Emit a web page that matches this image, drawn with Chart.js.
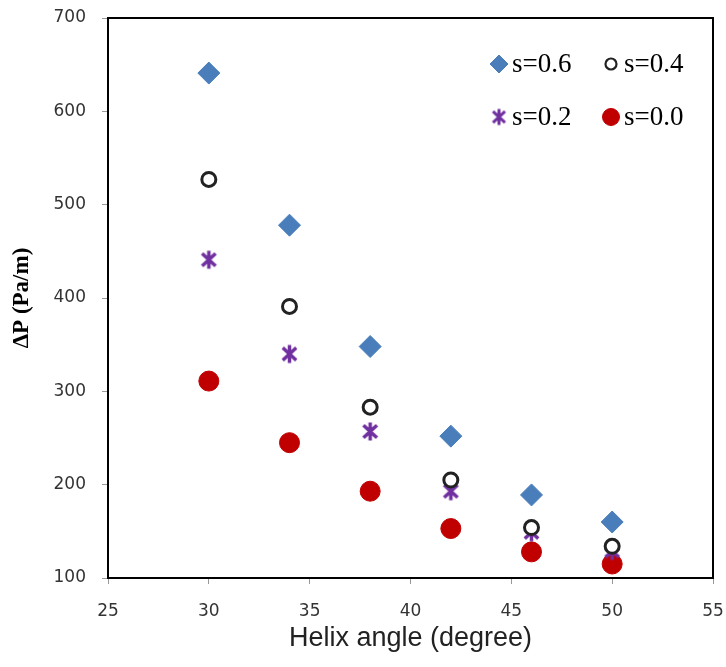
<!DOCTYPE html>
<html>
<head>
<meta charset="utf-8">
<script src="https://cdn.jsdelivr.net/npm/chart.js@4.4.0/dist/chart.umd.min.js"></script>
<style>
  body { margin: 0; background: #fff; }
  canvas { display: block; }
</style>
</head>
<body>
<canvas id="myChart" width="726" height="667"></canvas>
<script>
// ===== data =====
var helixAngle = [30, 34, 38, 42, 46, 50];
var dp_s06 = [641, 478, 348, 252, 189, 160];
var dp_s04 = [527, 391, 283, 205, 154, 134];
var dp_s02 = [441, 340, 257, 193, 149, 129];
var dp_s00 = [311, 245, 193, 153, 128, 115];

var xTicks = [25, 30, 35, 40, 45, 50, 55];
var yTicks = [100, 200, 300, 400, 500, 600, 700];

function pts(ys) {
  return helixAngle.map(function (x, i) { return { x: x, y: ys[i] }; });
}

// asterisk marker (vertical bar + X), like the Excel one
function makeStar(size, lw, color) {
  var c = document.createElement('canvas');
  c.width = size; c.height = size;
  var g = c.getContext('2d');
  var m = size / 2, r = size / 2 - 1.5;
  g.strokeStyle = color;
  g.lineWidth = lw;
  g.beginPath();
  g.moveTo(m, m - r); g.lineTo(m, m + r);
  g.moveTo(m - r * 0.75, m - r * 0.7); g.lineTo(m + r * 0.75, m + r * 0.7);
  g.moveTo(m + r * 0.75, m - r * 0.7); g.lineTo(m - r * 0.75, m + r * 0.7);
  g.stroke();
  return c;
}
var starImg = makeStar(21, 3.5, '#7030A0');
var starLegend = makeStar(19, 3, '#7030A0');

var datasets = [
  { label: 's=0.6', data: pts(dp_s06), pointStyle: 'rectRot', pointRadius: 11,
    backgroundColor: '#4A7EBB', borderColor: '#4A7EBB', borderWidth: 1 },
  { label: 's=0.4', data: pts(dp_s04), pointStyle: 'circle', pointRadius: 7,
    backgroundColor: '#fff', borderColor: '#222', borderWidth: 3 },
  { label: 's=0.2', data: pts(dp_s02), pointStyle: starImg, pointRadius: 10,
    backgroundColor: '#7030A0', borderColor: '#7030A0' },
  { label: 's=0.0', data: pts(dp_s00), pointStyle: 'circle', pointRadius: 10,
    backgroundColor: '#C00000', borderColor: '#C00000', borderWidth: 1 }
];

// frame + 2x2 legend inside the plot
var framePlugin = {
  id: 'frame',
  afterDraw: function (chart) {
    var a = chart.chartArea, ctx = chart.ctx;
    ctx.save();
    ctx.strokeStyle = '#000';
    ctx.lineWidth = 2;
    ctx.strokeRect(a.left, a.top, a.right - a.left, a.bottom - a.top);

    var items = [
      { ds: 0, x: 499, y: 64, r: 9 }, { ds: 1, x: 611, y: 64, r: 5.5 },
      { ds: 2, x: 499, y: 117, r: 9 }, { ds: 3, x: 611, y: 117, r: 8.5 }
    ];
    ctx.font = '27px "Liberation Serif", "Times New Roman", serif';
    ctx.textBaseline = 'middle';
    ctx.fillStyle = '#000';
    items.forEach(function (it) {
      var d = chart.data.datasets[it.ds];
      var style = it.ds === 2 ? starLegend : d.pointStyle;
      ctx.save();
      ctx.fillStyle = d.backgroundColor;
      ctx.strokeStyle = d.borderColor;
      ctx.lineWidth = it.ds === 1 ? 2.2 : 1;
      Chart.helpers.drawPoint(ctx, { pointStyle: style, radius: it.r, rotation: 0,
        borderWidth: ctx.lineWidth }, it.x, it.y);
      ctx.restore();
      ctx.fillText(d.label, it.x + 13, it.y + 1);
    });
    ctx.restore();
  }
};

var tickFont = { family: '"DejaVu Sans", Verdana, sans-serif', size: 17 };

var ctx = document.getElementById('myChart').getContext('2d');
new Chart(ctx, {
  type: 'scatter',
  data: { datasets: datasets },
  plugins: [framePlugin],
  options: {
    responsive: false,
    animation: false,
    layout: { padding: { top: 18, right: 13, left: 0, bottom: 0 } },
    plugins: {
      legend: { display: false },
      tooltip: { enabled: false }
    },
    scales: {
      x: {
        type: 'linear', min: 25, max: 55,
        afterBuildTicks: function (s) { s.ticks = xTicks.map(function (v) { return { value: v }; }); },
        afterFit: function (s) { s.height = 89; s.paddingLeft = 0; s.paddingRight = 0; },
        grid: { drawOnChartArea: false, drawTicks: true, tickLength: 6, color: '#999' },
        border: { display: false },
        ticks: { color: '#333', padding: 17, maxRotation: 0, font: tickFont },
        title: { display: true, text: 'Helix angle (degree)', color: '#222',
          font: { family: '"Liberation Sans", Arial, sans-serif', size: 27 },
          padding: { top: 0, bottom: 12 } }
      },
      y: {
        type: 'linear', min: 100, max: 700,
        afterBuildTicks: function (s) { s.ticks = yTicks.map(function (v) { return { value: v }; }); },
        afterFit: function (s) { s.width = 108; s.paddingTop = 0; s.paddingBottom = 0; },
        grid: { drawOnChartArea: false, drawTicks: true, tickLength: 6, color: '#999' },
        border: { display: false },
        ticks: { color: '#333', padding: 16, font: tickFont },
        title: { display: true, text: 'ΔP (Pa/m)', color: '#000',
          font: { family: '"Liberation Serif", "Times New Roman", serif', size: 23, weight: 'bold' },
          padding: { top: 8, bottom: 4 } }
      }
    }
  }
});
</script>
</body>
</html>
